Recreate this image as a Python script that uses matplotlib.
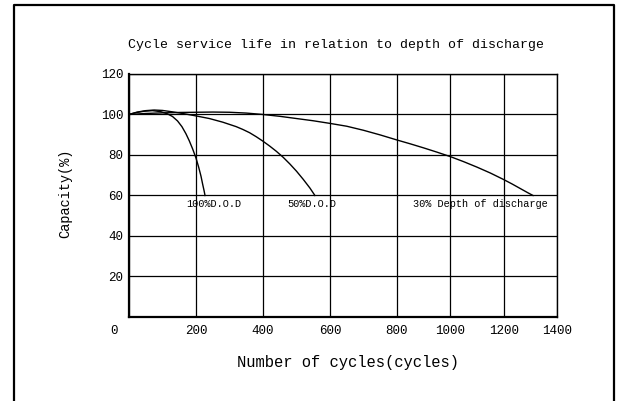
import numpy as np
import matplotlib
matplotlib.use("Agg")
import matplotlib.pyplot as plt
from matplotlib.lines import Line2D
from matplotlib.transforms import ScaledTranslation

plt.rcParams['font.family'] = ['Liberation Mono', 'DejaVu Sans Mono']

# Curves (cycles, capacity %)
dod100_x = [0, 20, 45, 70, 95, 115, 130, 145, 158, 170, 180, 190, 200, 208, 215, 220, 224, 227]
dod100_y = [100, 100.9, 101.6, 101.9, 101.4, 100.3, 99, 96.8, 94, 90.5, 87, 83, 78.5, 74, 69.5, 65.5, 62.5, 60]

dod50_x = [0, 25, 50, 75, 100, 130, 160, 200, 240, 280, 320, 340, 360, 380, 400, 420, 440,
           460, 480, 500, 520, 540, 555]
dod50_y = [100, 101.2, 101.9, 102.2, 102, 101.3, 100.5, 99.3, 98, 96.2, 94, 92.6, 91, 89, 86.8, 84.4, 81.8,
           78.9, 75.6, 72, 68, 63.7, 60]

dod30_x = [0, 50, 100, 150, 200, 250, 300, 350, 400, 450, 500, 550, 600, 650, 700, 750,
           800, 850, 900, 950, 1000, 1050, 1100, 1150, 1198, 1230, 1260, 1290, 1310]
dod30_y = [100, 100.5, 100.8, 101, 101.1, 101.2, 101.1, 100.7, 100, 99.1, 98, 96.9, 95.6, 94.2, 92.2, 89.9,
           87.4, 85.5, 83.5, 81.4, 79.2, 76.7, 74, 71.1, 68, 65.8, 63.6, 61.4, 60]

x_ticks = [0, 200, 400, 600, 800, 1000, 1200, 1400]
y_ticks = [20, 40, 60, 80, 100, 120]


# the x axis in the original is squeezed after 800 cycles
def fwd(x):
    x = np.asarray(x, dtype=float)
    return np.where(x <= 800, x, 800 + (x - 800) * 0.796)


def inv(u):
    u = np.asarray(u, dtype=float)
    return np.where(u <= 800, u, 800 + (u - 800) / 0.796)


fig = plt.figure(figsize=(6.18, 4.01), dpi=100)
ax = fig.add_axes([0.2087, 0.2095, 0.6926, 0.606])
ax.set_xscale('function', functions=(fwd, inv))
ax.set_xlim(0, 1400)
ax.set_ylim(0, 120)

for xs, ys in [(dod100_x, dod100_y), (dod50_x, dod50_y), (dod30_x, dod30_y)]:
    ax.plot(xs, ys, color='black', lw=1.0, solid_joinstyle='round')

ax.set_xticks(x_ticks)
ax.set_yticks(y_ticks)
ax.grid(True, color='black', lw=0.9)
ax.tick_params(length=0, labelsize=9, pad=4)
ax.tick_params(axis='x', pad=6)
for s in ax.spines.values():
    s.set_linewidth(1.0)
ax.spines['bottom'].set_linewidth(1.6)
ax.spines['left'].set_linewidth(1.6)

# the "0" sits down-left of the origin
lbl0 = ax.get_xticklabels()[0]
lbl0.set_transform(lbl0.get_transform() + ScaledTranslation(-0.15, 0, fig.dpi_scale_trans))

ax.text(170, 55.8, '100%D.O.D', fontsize=7.4, va='center')
ax.text(472, 55.8, '50%D.O.D', fontsize=7.4, va='center')
ax.text(860, 55.8, '30% Depth of discharge', fontsize=7.4, va='center')

fig.text(0.5437, 0.888, 'Cycle service life in relation to depth of discharge',
         fontsize=9.5, ha='center', va='center')
fig.text(0.563, 0.097, 'Number of cycles(cycles)', fontsize=11.2, ha='center', va='center')
fig.text(0.105, 0.519, 'Capacity(%)', fontsize=9.8, rotation=90, ha='center', va='center')

# outer frame, open at the bottom
fx0, fx1, fy = 13.5 / 618, 613.5 / 618, 1 - 5 / 401
fig.add_artist(Line2D([fx0, fx0, fx1, fx1], [0, fy, fy, 0], color='black', lw=1.6,
                      transform=fig.transFigure))

fig.savefig('out.png', dpi=100)
